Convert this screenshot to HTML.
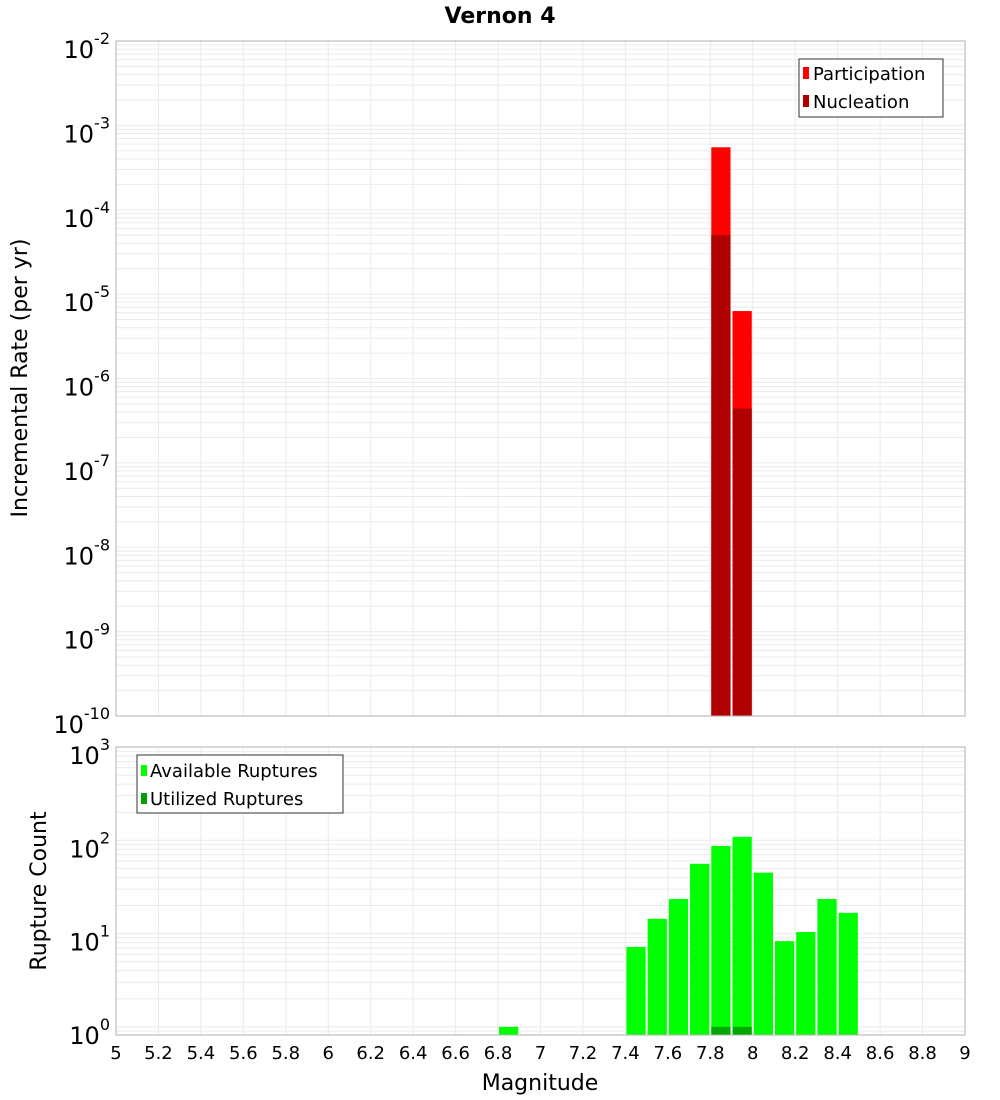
<!DOCTYPE html>
<html><head><meta charset="utf-8"><style>
body{margin:0;background:#fff;}
svg{display:block;font-family:"DejaVu Sans","Liberation Sans",sans-serif;}
</style></head><body>
<svg id="chart" width="1000" height="1100" xmlns="http://www.w3.org/2000/svg"></svg>
<script>
const magBins = [7.85, 7.95];
const participation = [5.5e-4, 6.3e-6];
const nucleation = [5.0e-5, 4.4e-7];
const ruptMags = [6.85, 7.45, 7.55, 7.65, 7.75, 7.85, 7.95, 8.05, 8.15, 8.25, 8.35, 8.45];
const available = [1, 7.2, 14.4, 23.5, 56, 87, 109, 45, 8.3, 10.4, 23.5, 16.7];
const utilMags = [7.85, 7.95];
const utilized = [1, 1];
const xTicks = [5,5.2,5.4,5.6,5.8,6,6.2,6.4,6.6,6.8,7,7.2,7.4,7.6,7.8,8,8.2,8.4,8.6,8.8,9];
const topExps = [-2,-3,-4,-5,-6,-7,-8,-9,-10];
const botExps = [3,2,1,0];

const NS = "http://www.w3.org/2000/svg";
const svg = document.getElementById('chart');
function mk(tag, attrs, parent){const e=document.createElementNS(NS,tag);for(const k in attrs)e.setAttribute(k,attrs[k]);(parent||svg).appendChild(e);return e;}
const X0=116,X1=965;
const xs = m => X0 + (m-5)/4*(X1-X0);
const T0=41,T1=716;
const yTop = v => T0 + (-2 - Math.log10(v))*(T1-T0)/8;
const B0=747,B1=1035,BPD=93.3;
const yBot = v => B0 + (3 - Math.log10(v))*BPD;

function grid(g, y0, y1, yf, expLo, expHi){
  for(const t of xTicks){const x=xs(t);const l=mk('line',{x1:x,x2:x,y1:y0,y2:y1,stroke:'#ebebeb','stroke-width':1},g);
    
    }
  for(let e=expLo;e<expHi;e++){for(let k=1;k<10;k++){const y=yf(k*Math.pow(10,e));if(y<y0||y>y1)continue;
    const l=mk('line',{x1:X0,x2:X1,y1:y,y2:y,stroke:'#ebebeb','stroke-width':1},g);
    
    }}
}
// top panel
const gt=mk('g',{});


grid(gt,T0,T1,yTop,-10,-2);
function bar(g,m,v,yf,base,fill,name){const x=xs(m-0.05)+1,w=xs(m+0.05)-xs(m-0.05)-2;const y=yf(v);
  const r=mk('rect',{x:x,y:y,width:w,height:base-y,fill:fill},g);
  
  }
magBins.forEach((m,i)=>bar(gt,m,participation[i],yTop,T1,'#ff0000','participation-bar'));
magBins.forEach((m,i)=>bar(gt,m,nucleation[i],yTop,T1,'#b00000','nucleation-bar'));
mk('rect',{x:X0,y:T0,width:X1-X0,height:T1-T0,fill:'none',stroke:'#b0b0b0','stroke-width':1},gt);
topExps.forEach(e=>{const y=yTop(Math.pow(10,e));const t=mk('text',{x:110,y:y+17,'text-anchor':'end','font-size':24},gt);
  
  
  t.innerHTML='10<tspan dy="-14" font-size="16">'+e+'</tspan>';});
// bottom panel
const gb=mk('g',{});


grid(gb,B0,B1,yBot,-1,3);
ruptMags.forEach((m,i)=>bar(gb,m,available[i],yBot,B1,'#00ff00','available-bar'));
utilMags.forEach((m,i)=>bar(gb,m,utilized[i],yBot,B1,'#00a800','utilized-bar'));
mk('rect',{x:X0,y:B0,width:X1-X0,height:B1-B0,fill:'none',stroke:'#b0b0b0','stroke-width':1},gb);
botExps.forEach(e=>{const y=yBot(Math.pow(10,e));const t=mk('text',{x:110,y:y+17,'text-anchor':'end','font-size':24},gb);
  
  
  t.innerHTML='10<tspan dy="-14" font-size="16">'+e+'</tspan>';});
xTicks.forEach(v=>{const t=mk('text',{x:xs(v),y:1059,'text-anchor':'middle','font-size':18});
  
  
  t.textContent=String(v);});
</script>
<svg style="position:absolute;left:0;top:0" width="1000" height="1100" xmlns="http://www.w3.org/2000/svg">
<text x="500" y="23" text-anchor="middle" font-size="22" font-weight="bold" font-family="DejaVu Sans, Liberation Sans, sans-serif">Vernon 4</text>
<text transform="translate(27,378) rotate(-90)" text-anchor="middle" font-size="22" font-family="DejaVu Sans, Liberation Sans, sans-serif">Incremental Rate (per yr)</text>
<text transform="translate(46,891) rotate(-90)" text-anchor="middle" font-size="22" font-family="DejaVu Sans, Liberation Sans, sans-serif">Rupture Count</text>
<text x="540" y="1090" text-anchor="middle" font-size="22" font-family="DejaVu Sans, Liberation Sans, sans-serif">Magnitude</text>
<g font-family="DejaVu Sans, Liberation Sans, sans-serif" font-size="18">
<rect x="799" y="59" width="144" height="58" fill="#fff" stroke="#333"/>
<rect x="803" y="67" width="6" height="12" fill="#ff0000"/>
<text x="813" y="80">Participation</text>
<rect x="803" y="95" width="6" height="12" fill="#b00000"/>
<text x="813" y="108">Nucleation</text>
</g>
<g font-family="DejaVu Sans, Liberation Sans, sans-serif" font-size="18">
<rect x="137" y="755" width="206" height="58" fill="#fff" stroke="#333"/>
<rect x="141" y="765" width="6" height="11" fill="#00ff00"/>
<text x="150" y="777">Available Ruptures</text>
<rect x="141" y="793" width="6" height="11" fill="#00a000"/>
<text x="150" y="805">Utilized Ruptures</text>
</g>
</svg>
</body></html>
